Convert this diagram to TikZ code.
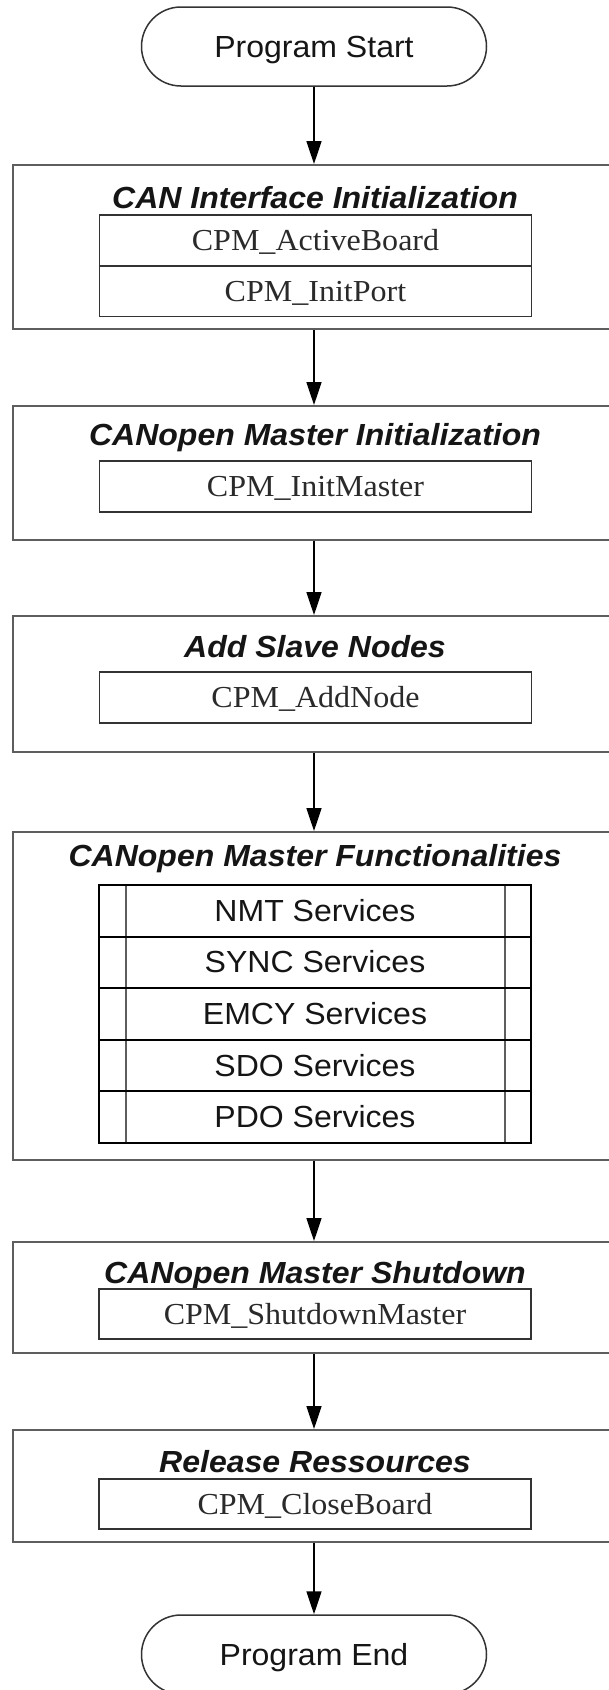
\documentclass[tikz,border=0pt]{standalone}
\usepackage{fontspec}
\setmainfont[FakeStretch=1.05]{Liberation Serif}
\newfontfamily\arialfont[FakeStretch=1.05]{Liberation Sans}
\usetikzlibrary{shapes.misc,arrows.meta}
\definecolor{outergray}{HTML}{5E5E5E}
\definecolor{innerdark}{HTML}{333333}
\definecolor{txt}{HTML}{151515}
\definecolor{seriftxt}{HTML}{2A2A2A}
\begin{document}
\begin{tikzpicture}[x=1pt,y=-1pt,
  outerbox/.style={draw=outergray, line width=2pt, minimum width=640pt, anchor=north west, inner sep=0pt},
  innerbox/.style={draw=innerdark, line width=1.8pt, minimum width=432pt, minimum height=51pt, inner sep=0pt,
     font=\fontsize{30.5}{30.5}\selectfont, text=seriftxt, text height=20pt, text depth=0pt},
  svcbox/.style={draw=black, line width=2pt, minimum width=432pt, minimum height=51.6pt, inner sep=0pt,
     font=\arialfont\fontsize{30.5}{30.5}\selectfont, text=txt, text height=21pt, text depth=0pt,
     path picture={
       \draw[line width=1.4pt, outergray] ([xshift=27pt]path picture bounding box.north west) -- ([xshift=27pt]path picture bounding box.south west);
       \draw[line width=1.4pt, outergray] ([xshift=-26pt]path picture bounding box.north east) -- ([xshift=-26pt]path picture bounding box.south east);
     }},
  titletext/.style={font=\arialfont\bfseries\itshape\fontsize{30.5}{30.5}\selectfont, text=txt, anchor=base, inner sep=0pt},
  terminal/.style={rounded rectangle, draw=innerdark, line width=1.5pt, minimum width=345pt, minimum height=79pt,
     inner sep=0pt, font=\arialfont\fontsize{30.5}{30.5}\selectfont, text=txt, text height=21pt, text depth=0pt},
  arr/.style={draw=black, line width=1.6pt, -{Triangle[length=23pt,width=15pt]}}
]
\useasboundingbox (0,0) rectangle (609,1690);
\clip (0,0) rectangle (609,1690);
\fill[white] (0,0) rectangle (609,1690);

% start
\node[terminal] (ps) at (314,46.5) {Program Start};

% box 1
\node[outerbox, minimum height=164pt] (b1) at (12,164) {};
\node[titletext] (t1) at (315,208) {CAN Interface Initialization};
\node[innerbox] (f1a) at (315.5,240.5) {CPM\_ActiveBoard};
\node[innerbox] (f1b) at (315.5,291) {CPM\_InitPort};

% box 2
\node[outerbox, minimum height=134pt] (b2) at (12,405) {};
\node[titletext] (t2) at (315,445) {CANopen Master Initialization};
\node[innerbox] (f2) at (315.5,486.5) {CPM\_InitMaster};

% box 3
\node[outerbox, minimum height=136pt] (b3) at (12,615) {};
\node[titletext] (t3) at (315,657) {Add Slave Nodes};
\node[innerbox] (f3) at (315.5,697.5) {CPM\_AddNode};

% box 4
\node[outerbox, minimum height=328pt] (b4) at (12,831) {};
\node[titletext] (t4) at (315,866) {CANopen Master Functionalities};
\node[svcbox] (s1) at (315,910.8) {NMT Services};
\node[svcbox] (s2) at (315,962.4) {SYNC Services};
\node[svcbox] (s3) at (315,1014.0) {EMCY Services};
\node[svcbox] (s4) at (315,1065.6) {SDO Services};
\node[svcbox] (s5) at (315,1117.2) {PDO Services};

% box 5
\node[outerbox, minimum height=111pt] (b5) at (12,1241) {};
\node[titletext] (t5) at (315,1283) {CANopen Master Shutdown};
\node[innerbox, minimum height=50pt] (f5) at (315,1314) {CPM\_ShutdownMaster};

% box 6
\node[outerbox, minimum height=112pt] (b6) at (12,1429) {};
\node[titletext] (t6) at (315,1472) {Release Ressources};
\node[innerbox, minimum height=50pt] (f6) at (315,1504) {CPM\_CloseBoard};

% end
\node[terminal] (pe) at (314,1654.5) {Program End};

% connectors
\draw[arr] (ps.south) -- (ps.south |- b1.north);
\draw[arr] (ps.south |- b1.south) -- (ps.south |- b2.north);
\draw[arr] (ps.south |- b2.south) -- (ps.south |- b3.north);
\draw[arr] (ps.south |- b3.south) -- (ps.south |- b4.north);
\draw[arr] (ps.south |- b4.south) -- (ps.south |- b5.north);
\draw[arr] (ps.south |- b5.south) -- (ps.south |- b6.north);
\draw[arr] (ps.south |- b6.south) -- (pe.north);
\end{tikzpicture}
\end{document}
